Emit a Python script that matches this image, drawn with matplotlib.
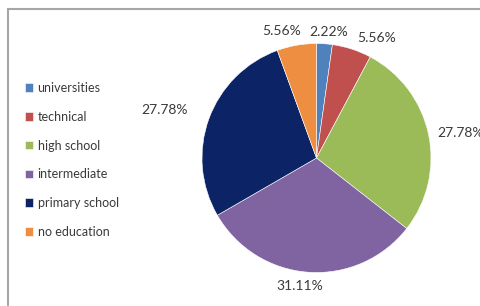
import matplotlib.pyplot as plt
import numpy as np
from matplotlib.patches import Rectangle

plt.rcParams['font.family'] = ['Lato', 'DejaVu Sans']

# data
categories = ['universities', 'technical', 'high school', 'intermediate',
              'primary school', 'no education']
shares = [2.22, 5.56, 27.78, 31.11, 27.78, 5.56]
labels = ['2.22%', '5.56%', '27.78%', '31.11%', '27.78%', '5.56%']
colors = ['#4F81BD', '#C0504D', '#9BBB59', '#8064A2', '#0C2466', '#EE8E40']

# small nudges (pixels) so the crowded top labels don't collide
nudge = [(4, -2), (3, -3), (1, 0), (-8, 0), (-14, 0), (-14, 0)]

W, H = 480, 306
fig = plt.figure(figsize=(W / 100, H / 100), dpi=100)

# grey frame round the chart area
fig.patches.append(Rectangle((7.5 / W, -0.05), 1.1, (H - 8.5) / H + 0.05,
                             transform=fig.transFigure, fill=False,
                             edgecolor='#A6A6A6', linewidth=1.5))

cx, cy, r = 316.5, 158, 114.5
ax = fig.add_axes([(cx - r) / W, (H - cy - r) / H, 2 * r / W, 2 * r / H])
wedges, _ = ax.pie(shares, colors=colors, startangle=90, counterclock=False,
                   radius=1, wedgeprops=dict(edgecolor='white', linewidth=0.4))
ax.set_xlim(-1, 1)
ax.set_ylim(-1, 1)
ax.set_aspect('equal')
ax.axis('off')

for w, lab, (nx, ny) in zip(wedges, labels, nudge):
    ang = np.deg2rad((w.theta1 + w.theta2) / 2)
    c, s = np.cos(ang), np.sin(ang)
    ha = 'left' if c > 0.3 else ('right' if c < -0.3 else 'center')
    va = 'bottom' if s > 0.3 else ('top' if s < -0.3 else 'center')
    ax.annotate(lab, (1.07 * c, 1.07 * s), xytext=(nx * 0.72, ny * 0.72),
                textcoords='offset points', ha=ha, va=va,
                fontsize=10, color='#3A3A3A', annotation_clip=False)

leg = fig.legend(wedges, categories, loc='upper left',
                 bbox_to_anchor=(20 / W, 1 - 77 / H), frameon=False,
                 fontsize=9, handlelength=0.65, handleheight=0.65,
                 handletextpad=0.35, labelspacing=1.34, borderaxespad=0)
for t in leg.get_texts():
    t.set_color('#3A3A3A')

fig.savefig('out.png', dpi=100)
